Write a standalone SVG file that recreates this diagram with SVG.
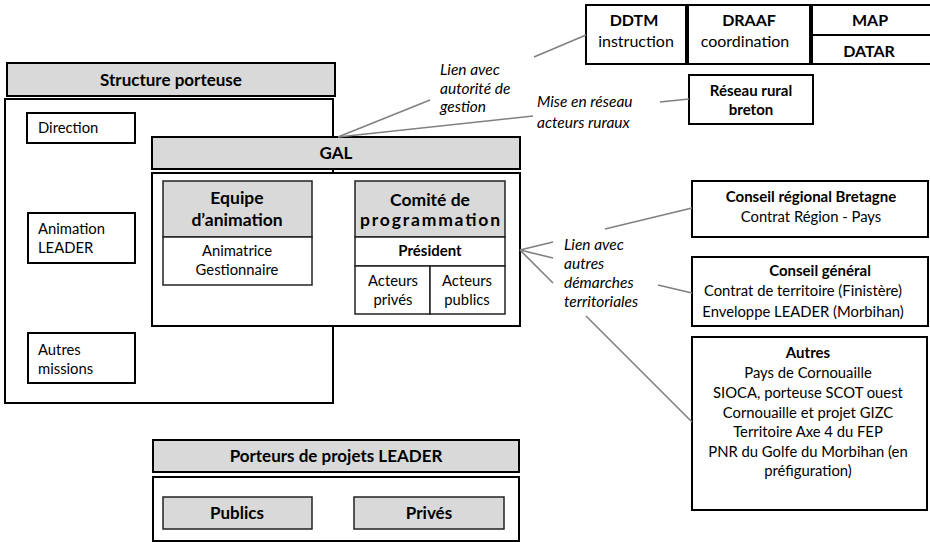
<svg xmlns="http://www.w3.org/2000/svg" width="930" height="542" viewBox="0 0 930 542">
<style>
text{font-family:Lato,"Liberation Sans",sans-serif;font-size:14.8px;fill:#000}
.b{font-weight:bold;font-size:15px}
.h{font-weight:bold;font-size:17px}
.hh{font-weight:bold;font-size:17.5px}
.t{font-size:16px}
.i{font-style:italic;font-size:15.5px}
.m{text-anchor:middle}
.box{fill:#fff;stroke:#000;stroke-width:2}
.gbox{fill:#d9d9d9;stroke:#000;stroke-width:2}
.ibox{fill:#fff;stroke:#222;stroke-width:1.5}
.igbox{fill:#d9d9d9;stroke:#222;stroke-width:1.5}
.con{stroke:#808080;stroke-width:1.6;fill:none}
</style>
<rect width="930" height="542" fill="#fff"/>

<g id="structure-porteuse">
<rect class="gbox" x="7" y="63" width="328" height="33"/>
<text class="h m" x="171" y="86">Structure porteuse</text>
<rect class="box" x="5" y="99" width="328" height="304"/>
</g>
<g id="direction">
<rect class="box" x="27" y="113" width="108" height="30"/>
<text x="38" y="133">Direction</text>
</g>
<g id="animation-leader">
<rect class="box" x="28" y="213" width="107" height="50"/>
<text x="38" y="234">Animation</text>
<text x="38" y="253">LEADER</text>
</g>
<g id="autres-missions">
<rect class="box" x="28" y="333" width="107" height="50"/>
<text x="38" y="355">Autres</text>
<text x="38" y="374">missions</text>
</g>

<g id="gal">
<rect class="gbox" x="152" y="137" width="368" height="32"/>
<text class="h m" x="336" y="159">GAL</text>
<rect class="box" x="152" y="173" width="368" height="153"/>
</g>
<g id="equipe-animation">
<rect class="igbox" x="163" y="181" width="149" height="56"/>
<text class="hh m" x="237" y="204">Equipe</text>
<text class="hh m" x="237" y="226">d’animation</text>
<rect class="ibox" x="163" y="237" width="149" height="48"/>
<text class="m" x="237" y="256">Animatrice</text>
<text class="m" x="237" y="275">Gestionnaire</text>
</g>
<g id="comite-programmation">
<rect class="igbox" x="355" y="181" width="150" height="56"/>
<text class="hh m" x="430" y="206">Comité de</text>
<text class="hh m" x="430" y="226" textLength="140" lengthAdjust="spacing">programmation</text>
<rect class="ibox" x="355" y="237" width="150" height="29"/>
<text class="b m" x="430" y="256">Président</text>
<rect class="ibox" x="355" y="266" width="75" height="48"/>
<rect class="ibox" x="430" y="266" width="75" height="48"/>
<text class="m" x="393" y="286">Acteurs</text>
<text class="m" x="393" y="305">privés</text>
<text class="m" x="467" y="286">Acteurs</text>
<text class="m" x="467" y="305">publics</text>
</g>

<g id="porteurs-projets">
<rect class="gbox" x="153" y="440" width="366" height="32"/>
<text class="h m" x="336" y="462">Porteurs de projets LEADER</text>
<rect class="box" x="153" y="477" width="366" height="64"/>
</g>
<g id="publics">
<rect class="igbox" x="163" y="497" width="149" height="32"/>
<text class="h m" x="237" y="519">Publics</text>
</g>
<g id="prives">
<rect class="igbox" x="354" y="497" width="150" height="32"/>
<text class="h m" x="429" y="519">Privés</text>
</g>

<g id="ddtm">
<rect class="box" x="586" y="5" width="100" height="59"/>
<text class="b t m" x="634" y="26">DDTM</text>
<text class="t m" x="636" y="47">instruction</text>
</g>
<g id="draaf">
<rect class="box" x="688" y="5" width="122" height="59"/>
<text class="b t m" x="749" y="26">DRAAF</text>
<text class="t m" x="745" y="47">coordination</text>
</g>
<g id="map-datar">
<rect class="box" x="812" y="5" width="125" height="59"/>
<line x1="812" y1="35" x2="937" y2="35" stroke="#000" stroke-width="2"/>
<text class="b t m" x="870" y="26">MAP</text>
<text class="b t m" x="869" y="57">DATAR</text>
</g>
<g id="reseau-rural">
<rect class="box" x="689" y="75" width="124" height="49"/>
<text class="b m" x="751" y="96">Réseau rural</text>
<text class="b m" x="751" y="115">breton</text>
</g>

<g id="conseil-regional">
<rect class="box" x="692" y="181" width="236" height="56"/>
<text class="b m" x="811" y="202">Conseil régional Bretagne</text>
<text class="m" x="811" y="222">Contrat Région - Pays</text>
</g>
<g id="conseil-general">
<rect class="box" x="692" y="257" width="236" height="69"/>
<text class="b m" x="820" y="276">Conseil général</text>
<text class="m" x="803" y="296">Contrat de territoire (Finistère)</text>
<text class="m" x="803" y="317">Enveloppe LEADER (Morbihan)</text>
</g>
<g id="autres">
<rect class="box" x="692" y="337" width="235" height="173"/>
<text class="b m" x="808" y="358">Autres</text>
<text class="m" x="808" y="378">Pays de Cornouaille</text>
<text class="m" x="808" y="398">SIOCA, porteuse SCOT ouest</text>
<text class="m" x="808" y="418">Cornouaille et projet GIZC</text>
<text class="m" x="808" y="437">Territoire Axe 4 du FEP</text>
<text class="m" x="808" y="457">PNR du Golfe du Morbihan (en</text>
<text class="m" x="808" y="476">préfiguration)</text>
</g>

<g id="connectors">
<line class="con" x1="338" y1="137" x2="430" y2="100"/>
<line class="con" x1="534" y1="57" x2="586" y2="35"/>
<line class="con" x1="338" y1="137" x2="533" y2="116"/>
<line class="con" x1="660" y1="102" x2="689" y2="99"/>
<line class="con" x1="520" y1="250" x2="553" y2="242"/>
<line class="con" x1="605" y1="229" x2="692" y2="208"/>
<line class="con" x1="520" y1="250" x2="553" y2="258"/>
<line class="con" x1="658" y1="285" x2="692" y2="293"/>
<line class="con" x1="520" y1="250" x2="553" y2="283"/>
<line class="con" x1="586" y1="316" x2="692" y2="422"/>
</g>

<g id="labels">
<text class="i" x="440" y="75">Lien avec</text>
<text class="i" x="440" y="94">autorité de</text>
<text class="i" x="440" y="112">gestion</text>
<text class="i" x="537" y="107">Mise en réseau</text>
<text class="i" x="537" y="128">acteurs ruraux</text>
<text class="i" x="564" y="250">Lien avec</text>
<text class="i" x="564" y="269">autres</text>
<text class="i" x="564" y="288">démarches</text>
<text class="i" x="564" y="307">territoriales</text>
</g>
</svg>
